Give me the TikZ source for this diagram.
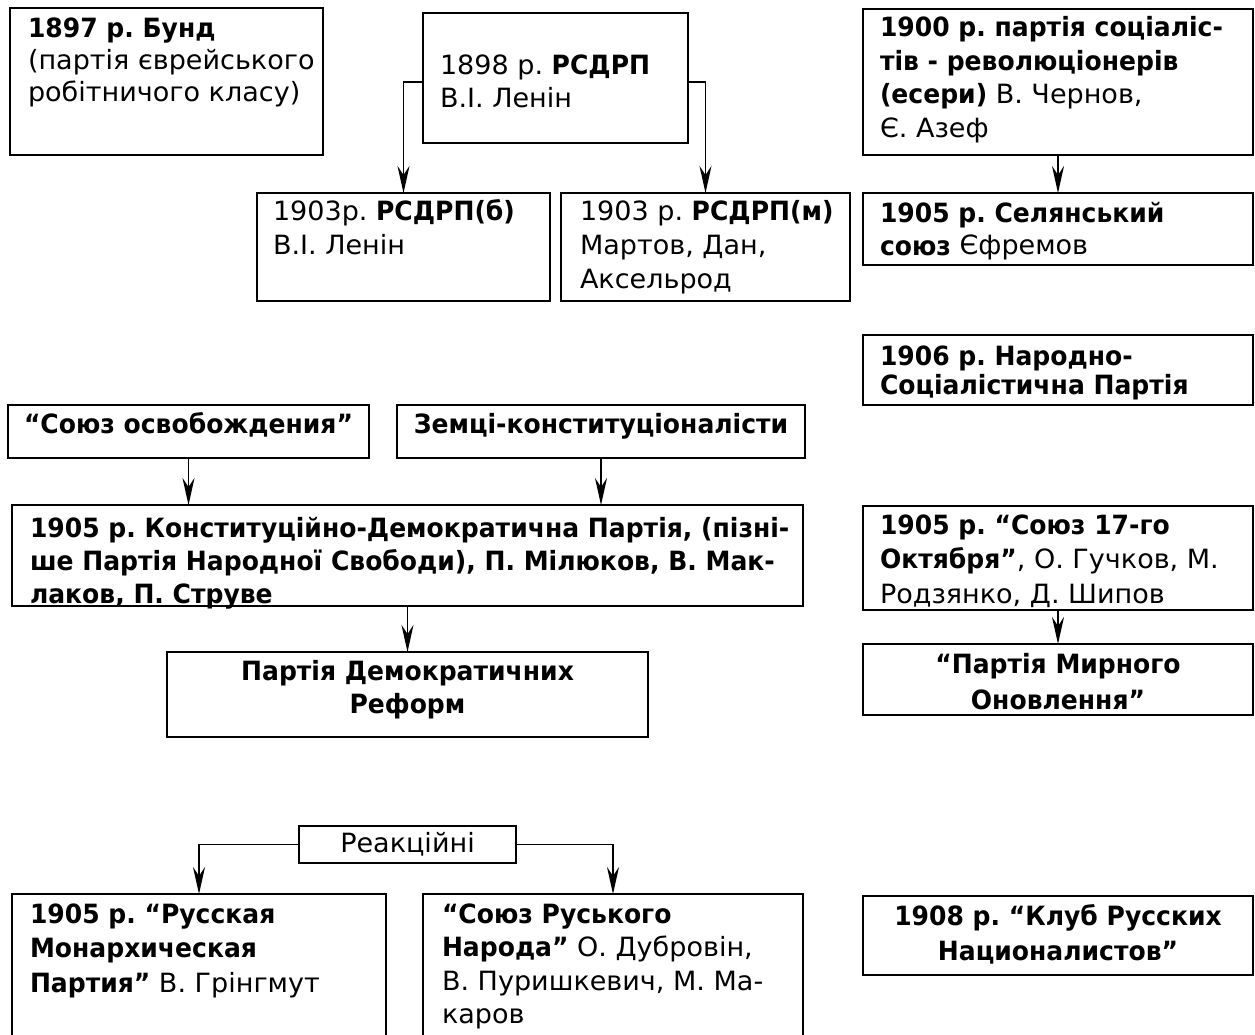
\documentclass[tikz,border=0pt]{standalone}
\usepackage{fontspec}
\setmainfont{DejaVu Sans}[UprightFeatures={FakeStretch=1.02},BoldFeatures={FakeStretch=0.945}]
\usetikzlibrary{arrows.meta}
\frenchspacing
% width, height, left pad, first baseline, baselineskip, text
\newcommand\bt[6]{\parbox[b][#2pt][t]{#1pt}{\fontsize{26.5}{#5}\selectfont\frenchspacing\leftskip=#3pt\rightskip=0pt plus 1fil\parindent=0pt\parfillskip=0pt plus 1fil\vspace*{\dimexpr#4pt-0.7\baselineskip\relax}\strut#6}}
\newcommand\bc[6]{\parbox[b][#2pt][t]{#1pt}{\fontsize{26.5}{#5}\selectfont\frenchspacing\centering\vspace*{\dimexpr#4pt-0.7\baselineskip\relax}\hspace*{#3pt}\strut#6}}
\begin{document}
\begin{tikzpicture}[x=1pt,y=-1pt,
  box/.style={draw,line width=2pt,inner sep=0pt,outer sep=0pt,anchor=north west},
  conn/.style={line width=1.5pt,-{Stealth[length=27pt,width=12pt,inset=9pt]}}]
\useasboundingbox (0,0) rectangle (1255,1035);
\clip (0,0) rectangle (1255,1035);

\node[box] (A) at (10,8) {\bt{313}{147}{18}{30}{32}{\textbf{1897 р. Бунд}\\(партія єврейського\\робітничого класу)}};
\node[box] (B) at (423,13) {\bt{265}{130}{17}{62}{33}{1898 р. \textbf{РСДРП}\\В.І. Ленін}};
\node[box] (C) at (257,193) {\bt{293}{108}{16}{27}{34}{1903р. \textbf{РСДРП(б)}\\В.І. Ленін}};
\node[box] (D) at (561,193) {\bt{289}{108}{19}{27}{34}{1903 р. \textbf{РСДРП(м)}\\Мартов, Дан,\\Аксельрод}};
\node[box] (E) at (863,9) {\bt{390}{146}{17}{28}{33.5}{\textbf{1900 р. партія соціаліс-}\\\textbf{тів - революціонерів}\\\textbf{(есери)} В. Чернов,\\Є. Азеф}};
\node[box] (F) at (863,193) {\bt{390}{72}{17}{29}{33}{\textbf{1905 р. Селянський}\\\textbf{союз} Єфремов}};
\node[box] (G) at (863,335) {\bt{390}{70}{17}{30}{28}{\textbf{1906 р. Народно-}\\\textbf{Соціалістична Партія}}};

\node[box] (H) at (8,405) {\bc{361}{53}{0}{28}{33}{\textbf{“Союз освобождения”}}};
\node[box] (I) at (397,405) {\bc{408}{53}{0}{28}{33}{\textbf{Земці-конституціоналісти}}};
\node[box] (J) at (12,505) {\bt{791}{101}{18}{32}{33}{\textbf{1905 р. Конституційно-Демократична Партія, (пізні-}\\\textbf{ше Партія Народної Свободи), П. Мілюков, В. Мак-}\\\textbf{лаков, П. Струве}}};
\node[box] (K) at (167,652) {\bc{481}{85}{0}{28}{33}{\textbf{Партія Демократичних}\\\textbf{Реформ}}};

\node[box] (O) at (863,506) {\bt{390}{104}{17}{28}{34.5}{\textbf{1905 р. “Союз 17-го}\\\textbf{Октября”}, О. Гучков, М.\\Родзянко, Д. Шипов}};
\node[box] (P) at (863,644) {\bc{390}{71}{0}{29}{36}{\textbf{“Партія Мирного}\\\textbf{Оновлення”}}};

\node[box] (R) at (299,826) {\bc{217}{37}{0}{26}{33}{Реакційні}};
\node[box] (L) at (12,894) {\bt{374}{170}{18}{29}{34.5}{\textbf{1905 р. “Русская}\\\textbf{Монархическая}\\\textbf{Партия”} В. Грінгмут}};
\node[box] (M) at (423,894) {\bt{380}{170}{19}{29}{33.5}{\textbf{“Союз Руського}\\\textbf{Народа”} О. Дубровін,\\В. Пуришкевич, М. Ма-\\каров}};
\node[box] (N) at (863,896) {\bc{390}{79}{0}{29}{35}{\textbf{1908 р. “Клуб Русских}\\\textbf{Националистов”}}};

\draw[conn] ([yshift=-4pt]B.west) -| (C.north);
\draw[conn] ([yshift=-4pt]B.east) -| (D.north);
\draw[conn] (E.south) -- (F.north);
\draw[conn] (H.south) -- (H.south |- J.north);
\draw[conn] (I.south) -- (I.south |- J.north);
\draw[conn] (J.south) -- (K.north);
\draw[conn] (O.south) -- (P.north);
\draw[conn] (R.west) -| (L.north);
\draw[conn] (R.east) -| (M.north);
\end{tikzpicture}
\end{document}
